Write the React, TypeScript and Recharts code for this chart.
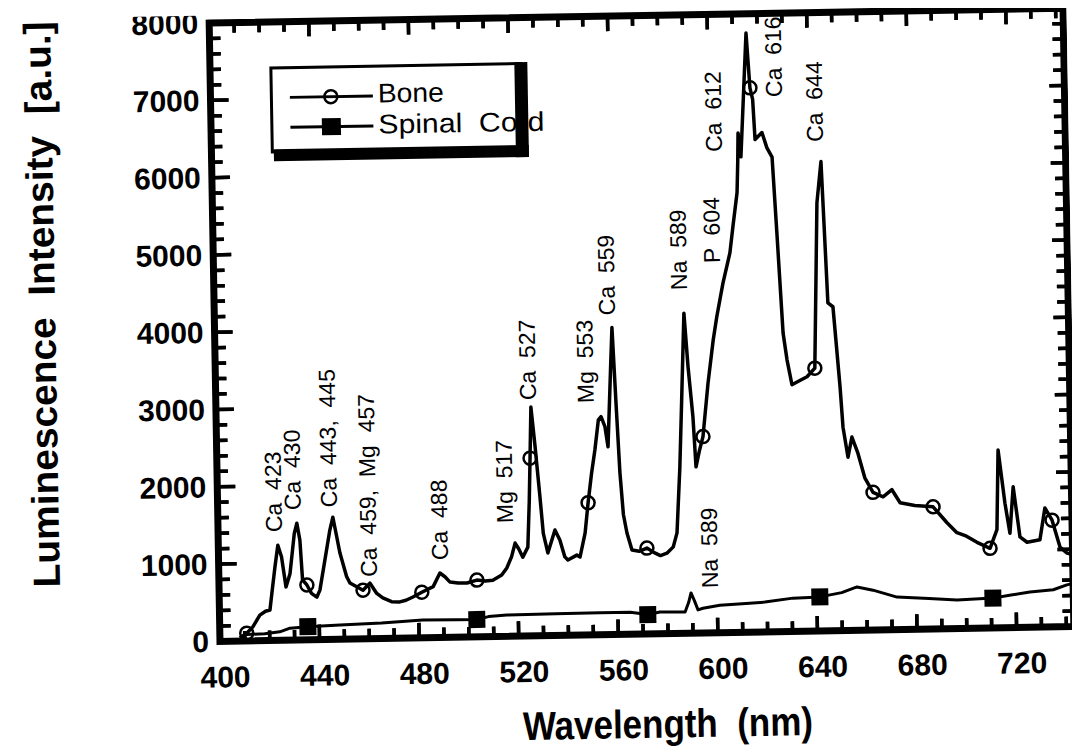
import React from 'react';
import { LineChart, Line, XAxis, YAxis, ReferenceDot, ReferenceArea, ReferenceLine, Legend } from 'recharts';

const FONT = '"Liberation Sans", Arial, Helvetica, sans-serif';

// ---------- data ----------
const boneWavelength = [
  408.0, 410.8, 413.3, 416.2, 418.5, 420.3, 421.2, 422.6, 423.9, 425.3, 426.9, 428.6, 430.6, 431.7, 432.8, 433.6,
  435.3, 437.1, 439.2, 440.5, 443.2, 444.9, 446.2, 447.6, 448.8, 451.3, 452.6, 455.3, 457.8, 460.6, 463.3, 465.7,
  469.2, 472.5, 475.0, 477.8, 481.4, 486.0, 488.8, 490.8, 492.8, 496.0, 499.6, 503.6, 507.0, 510.0, 513.6, 515.7,
  517.7, 519.2, 520.6, 522.2, 524.3, 525.2, 525.8, 526.5, 527.9, 529.5, 530.6, 532.3, 535.3, 537.2, 539.1, 540.3,
  543.9, 545.2, 547.4, 548.8, 550.4, 551.9, 553.5, 554.6, 556.1, 557.2, 558.8, 559.6, 560.7, 561.8, 562.9, 564.2,
  566.1, 569.0, 572.1, 575.0, 577.5, 580.1, 582.7, 584.3, 585.9, 587.1, 588.6, 589.9, 591.5, 592.4, 593.8, 595.4,
  597.8, 600.2, 601.8, 604.5, 607.5, 608.9, 610.8, 611.3, 611.6, 612.6, 615.5, 616.7, 617.7, 618.4, 621.2, 623.1,
  625.1, 626.5, 628.3, 629.7, 631.5, 634.5, 637.6, 640.8, 642.8, 644.7, 646.5, 648.5, 650.8, 651.7, 653.5, 655.2,
  657.5, 660.1, 663.3, 667.3, 670.9, 674.1, 680.0, 687.3, 692.8, 696.7, 700.0, 704.7, 709.9, 712.8, 713.8, 716.2,
  718.0, 719.6, 722.0, 724.8, 730.0, 732.2, 735.0, 738.0, 740.8, 743.0,
];
const boneIntensity = [
  40, 100, 180, 330, 380, 395, 615, 950, 1230, 1080, 690, 860, 1380, 1510, 1290, 775,
  710, 600, 550, 640, 1115, 1415, 1580, 1330, 1115, 810, 725, 675, 630, 720, 585, 525,
  475, 470, 490, 530, 590, 660, 835, 785, 715, 700, 700, 735, 720, 730, 795, 885,
  1030, 1205, 1130, 1020, 1150, 1750, 2300, 2960, 2450, 1800, 1325, 1070, 1365, 1235, 1015, 975,
  1035, 1010, 1320, 1710, 2090, 2390, 2780, 2820, 2690, 2430, 3465, 3970, 3000, 2090, 1550, 1310,
  1090, 1070, 1110, 1050, 1010, 1040, 1120, 1300, 2150, 3020, 4140, 3440, 2800, 2150, 2350, 2540,
  3230, 3790, 4090, 4520, 4910, 5250, 5690, 6100, 6460, 6150, 7750, 7040, 6890, 6370, 6460, 6260,
  6140, 5160, 3860, 3510, 3190, 3240, 3290, 3400, 5540, 6070, 4240, 4190, 3150, 2630, 2240, 2500,
  2290, 1970, 1780, 1720, 1810, 1640, 1600, 1580, 1370, 1240, 1200, 1110, 1030, 1270, 2300, 1610,
  1220, 1820, 1170, 1100, 1130, 1540, 1380, 1030, 950, 930,
];
const boneMarkerWavelengths = [410.8, 435.3, 457.8, 481.4, 503.6, 525.8, 548.8, 572.1, 595.4, 616.7, 640.8, 663.3, 687.3, 709.9, 735.0];

const spinalWavelength = [
  409.3, 418.0, 424.1, 428.2, 435.4, 448.3, 465.0, 481.6, 495.0, 503.3, 508.0, 515.4, 535.0, 552.8, 565.0, 572.0,
  576.9, 587.0, 588.5, 589.5, 590.8, 592.2, 594.2, 601.0, 610.0, 619.1, 630.4, 641.2, 650.0, 656.2, 662.6, 672.2,
  685.0, 696.3, 710.7, 718.0, 725.6, 735.0, 740.5, 743.0,
];
const spinalIntensity = [
  80, 90, 110, 155, 170, 185, 200, 230, 225, 225, 260, 275, 280, 285, 285, 250,
  280, 275, 400, 520, 420, 300, 320, 355, 370, 385, 430, 440, 490, 560, 515, 420,
  395, 370, 385, 420, 455, 480, 540, 555,
];
const spinalMarkerWavelengths = [435.4, 503.3, 572.0, 641.2, 710.7];

const xTickLabels = [400, 440, 480, 520, 560, 600, 640, 680, 720];
const yTickLabels = [0, 1000, 2000, 3000, 4000, 5000, 6000, 7000, 8000];

const peakLabels = ['Ca  423', 'Ca  430', 'Ca  443,  445', 'Ca  459,  Mg  457', 'Ca  488', 'Mg  517', 'Ca  527', 'Mg  553', 'Ca  559', 'Na  589', 'P  604', 'Ca  612', 'Ca  616', 'Ca  644', 'Na  589'];
const peakLabelX = [425.7, 433.4, 447.9, 463.5, 492.1, 518.5, 528.6, 551.8, 560.9, 590.0, 603.5, 605.0, 629.5, 645.7, 600.4];
const peakLabelY = [1400, 1680, 1710, 800, 1000, 1465, 3050, 3000, 4130, 4440, 4780, 6220, 6915, 6325, 577];

// ---------- derived ----------
const boneData = boneWavelength.map((x, i) => ({ x, y: boneIntensity[i] }));
const spinalData = spinalWavelength.map((x, i) => ({ x, y: spinalIntensity[i] }));
const boneMarkerSet = new Set(boneMarkerWavelengths);
const spinalMarkerSet = new Set(spinalMarkerWavelengths);

const X_DOMAIN: [number, number] = [400, 743];
const Y_DOMAIN: [number, number] = [0, 8000];
const X_MINOR = 10;
const Y_MINOR = 200;
const xTicks = Array.from({ length: Math.floor((X_DOMAIN[1] - X_DOMAIN[0]) / X_MINOR) + 1 }, (_, i) => X_DOMAIN[0] + i * X_MINOR);
const yTicks = Array.from({ length: Math.floor((Y_DOMAIN[1] - Y_DOMAIN[0]) / Y_MINOR) + 1 }, (_, i) => Y_DOMAIN[0] + i * Y_MINOR);
const isXMajor = (v: number) => (v - 400) % 40 === 0;
const isYMajor = (v: number) => v % 1000 === 0;

// layout of the plot frame
const CHART_W = 1064;
const CHART_H = 740;
const LEFT_W = 206.6;
const PLOT_W = 854;
const PLOT_H = 618.4;
const MARGIN_TOP = 7.6;
const BOTTOM_H = CHART_H - MARGIN_TOP - PLOT_H;
// tick lengths in pixels, converted to data units so the marks are placed through the scales
const PX_PER_Y = PLOT_H / (Y_DOMAIN[1] - Y_DOMAIN[0]);
const PX_PER_X = PLOT_W / (X_DOMAIN[1] - X_DOMAIN[0]);
const xTickLen = (v: number) => (isXMajor(v) ? 15 : 10) / PX_PER_Y;
const yTickLen = (v: number) => (isYMajor(v) ? 18 : 11) / PX_PER_X;
const yTickLenRight = (v: number) => (isYMajor(v) ? 15 : 11) / PX_PER_X;
const TICK_STROKE = 3.5;

// tick comb drawn as one broken polyline (null breaks between ticks)
type Pt = { x: number; y: number | null };
const tickComb: Pt[] = [];
xTicks.forEach((v) => {
  tickComb.push({ x: v, y: Y_DOMAIN[0] }, { x: v, y: Y_DOMAIN[0] + xTickLen(v) }, { x: v, y: null });
  tickComb.push({ x: v, y: Y_DOMAIN[1] }, { x: v, y: Y_DOMAIN[1] - xTickLen(v) }, { x: v, y: null });
});
const tickCombY: Pt[] = [];
yTicks.forEach((v) => {
  tickCombY.push({ x: X_DOMAIN[0], y: v }, { x: X_DOMAIN[0] + yTickLen(v), y: v }, { x: X_DOMAIN[0], y: null });
  tickCombY.push({ x: X_DOMAIN[1] - yTickLenRight(v), y: v }, { x: X_DOMAIN[1], y: v }, { x: X_DOMAIN[1], y: null });
});

// ---------- axis tick labels ----------
const BottomTick = (props: any) => {
  const { x, y, payload } = props;
  return (
    <text x={x + 5} y={y + 46} textAnchor="middle" fontSize={30} fontWeight="bold" fontFamily={FONT} fill="#000">
      {payload.value}
    </text>
  );
};
const LeftTick = (props: any) => {
  const { x, y, payload } = props;
  return (
    <text x={x - 11} y={y + 10.5} textAnchor="end" fontSize={30} fontWeight="bold" fontFamily={FONT} fill="#000">
      {payload.value}
    </text>
  );
};

// ---------- markers ----------
const renderBoneDot = (p: any) => {
  const k = `b${p.index}`;
  if (!boneMarkerSet.has(p.payload?.x)) return <g key={k} />;
  return <circle key={k} cx={p.cx} cy={p.cy} r={6.5} fill="none" stroke="#000" strokeWidth={2.5} />;
};
const renderSpinalDot = (p: any) => {
  const k = `s${p.index}`;
  if (!spinalMarkerSet.has(p.payload?.x)) return <g key={k} />;
  return <rect key={k} x={p.cx - 8.5} y={p.cy - 8.5} width={17} height={17} fill="#000" />;
};

// ---------- legend ----------
const LegendBox = () => (
  <svg width={280} height={105} style={{ display: 'block', overflow: 'visible' }}>
    <rect x={1.5} y={1.5} width={250} height={84} fill="#fff" stroke="#000" strokeWidth={3} />
    <line x1={20} x2={103} y1={31.3} y2={31.3} stroke="#000" strokeWidth={3} />
    <circle cx={61} cy={31.3} r={6.5} fill="none" stroke="#000" strokeWidth={2.5} />
    <line x1={20} x2={103} y1={61.3} y2={61.3} stroke="#000" strokeWidth={3} />
    <rect x={51.5} y={52.8} width={19} height={17} fill="#000" />
    <text x={108} y={38} fontSize={27} fontFamily={FONT} fill="#000" textLength={66} lengthAdjust="spacingAndGlyphs">Bone</text>
    <text x={108} y={69} fontSize={27} fontFamily={FONT} fill="#000" textLength={166} lengthAdjust="spacingAndGlyphs" style={{ whiteSpace: 'pre' }}>Spinal  Cord</text>
    <rect x={245} y={0} width={13} height={95} fill="#000" />
    <rect x={3} y={83} width={255} height={12} fill="#000" />
  </svg>
);

const YTitle = () => (
  <text
    x={47.5}
    y={286}
    transform="rotate(-90 47.5 286)"
    textAnchor="middle"
    fontSize={38}
    fontWeight="bold"
    fontFamily={FONT}
    fill="#000"
    textLength={566}
    lengthAdjust="spacingAndGlyphs"
    style={{ whiteSpace: 'pre' }}
  >
    Luminescence  Intensity  [a.u.]
  </text>
);
const XTitle = () => (
  <text
    x={653}
    y={730}
    textAnchor="middle"
    fontSize={40}
    fontWeight="bold"
    fontFamily={FONT}
    fill="#000"
    textLength={290}
    lengthAdjust="spacingAndGlyphs"
    style={{ whiteSpace: 'pre' }}
  >
    Wavelength  (nm)
  </text>
);

const tickLineProps = { stroke: '#000', strokeWidth: TICK_STROKE, ifOverflow: 'visible' as const };

export default function App() {
  return (
    <div
      style={{
        position: 'relative',
        width: CHART_W,
        height: CHART_H,
        background: '#fff',
        transform: 'rotate(-1deg)',
        transformOrigin: '632px 322px',
      }}
    >
      <LineChart width={CHART_W} height={CHART_H} margin={{ top: MARGIN_TOP, right: CHART_W - LEFT_W - PLOT_W, bottom: 0, left: 0 }}>
        <XAxis
          type="number"
          dataKey="x"
          domain={X_DOMAIN}
          ticks={xTickLabels}
          interval={0}
          allowDataOverflow
          height={BOTTOM_H}
          tickSize={0}
          tickMargin={0}
          tickLine={false}
          axisLine={false}
          tick={BottomTick}
          label={<XTitle />}
        />
        <YAxis
          type="number"
          domain={Y_DOMAIN}
          ticks={yTickLabels}
          interval={0}
          allowDataOverflow
          width={LEFT_W}
          tickSize={0}
          tickMargin={0}
          tickLine={false}
          axisLine={false}
          tick={LeftTick}
          label={<YTitle />}
        />
        <Legend
          layout="horizontal"
          verticalAlign="middle"
          align="center"
          width={280}
          height={105}
          wrapperStyle={{ left: 265.8, top: 52.3, width: 280, height: 105 }}
          content={() => <LegendBox />}
        />

        {/* inward tick marks on all four sides */}
        {xTicks.map((v) => (
          <ReferenceLine
            key={`xb${v}`}
            segment={[{ x: v, y: Y_DOMAIN[0] }, { x: v, y: Y_DOMAIN[0] + xTickLen(v) }]}
            {...tickLineProps}
          />
        ))}
        {xTicks.map((v) => (
          <ReferenceLine
            key={`xt${v}`}
            segment={[{ x: v, y: Y_DOMAIN[1] }, { x: v, y: Y_DOMAIN[1] - xTickLen(v) }]}
            {...tickLineProps}
          />
        ))}
        {yTicks.map((v) => (
          <ReferenceLine
            key={`yl${v}`}
            segment={[{ x: X_DOMAIN[0], y: v }, { x: X_DOMAIN[0] + yTickLen(v), y: v }]}
            {...tickLineProps}
          />
        ))}
        {yTicks.map((v) => (
          <ReferenceLine
            key={`yr${v}`}
            segment={[{ x: X_DOMAIN[1], y: v }, { x: X_DOMAIN[1] - yTickLenRight(v), y: v }]}
            {...tickLineProps}
          />
        ))}
        <Line
          name="ticks-x"
          legendType="none"
          data={tickComb}
          dataKey="y"
          type="linear"
          stroke="#000"
          strokeWidth={TICK_STROKE}
          strokeLinecap="butt"
          connectNulls={false}
          dot={false}
          activeDot={false}
          isAnimationActive={false}
        />
        <Line
          name="ticks-y"
          legendType="none"
          data={tickCombY}
          dataKey="y"
          type="linear"
          stroke="#000"
          strokeWidth={TICK_STROKE}
          strokeLinecap="butt"
          connectNulls={false}
          dot={false}
          activeDot={false}
          isAnimationActive={false}
        />

        <Line
          name="Spinal Cord"
          data={spinalData}
          dataKey="y"
          type="linear"
          stroke="#000"
          strokeWidth={3}
          strokeLinejoin="round"
          dot={renderSpinalDot}
          activeDot={false}
          isAnimationActive={false}
        />
        <Line
          name="Bone"
          data={boneData}
          dataKey="y"
          type="linear"
          stroke="#000"
          strokeWidth={3.5}
          strokeLinejoin="round"
          dot={renderBoneDot}
          activeDot={false}
          isAnimationActive={false}
        />
        {peakLabels.map((t, i) => (
          <ReferenceDot
            key={`pk${i}`}
            x={peakLabelX[i]}
            y={peakLabelY[i]}
            r={0}
            ifOverflow="visible"
            shape={(p: any) => (
              <text
                x={p.cx}
                y={p.cy}
                transform={`rotate(-90 ${p.cx} ${p.cy})`}
                textAnchor="start"
                fontSize={23}
                fontFamily={FONT}
                fill="#000"
                style={{ whiteSpace: 'pre' }}
              >
                {t}
              </text>
            )}
          />
        ))}

        {/* plot frame */}
        <ReferenceArea
          x1={X_DOMAIN[0]}
          x2={X_DOMAIN[1]}
          y1={Y_DOMAIN[0]}
          y2={Y_DOMAIN[1]}
          ifOverflow="visible"
          fill="none"
          fillOpacity={0}
          stroke="#000"
          strokeWidth={7}
          strokeOpacity={1}
        />
      </LineChart>
    </div>
  );
}
